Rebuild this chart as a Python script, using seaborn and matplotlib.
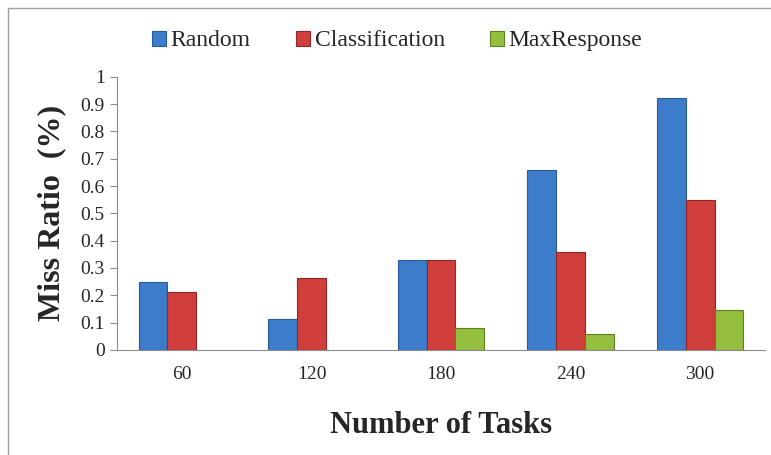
import pandas as pd
import matplotlib
matplotlib.use("Agg")
import matplotlib.pyplot as plt
import seaborn as sns
from matplotlib.patches import Rectangle

# values
tasks = ["60", "120", "180", "240", "300"]
random_vals = [0.25, 0.115, 0.33, 0.66, 0.923]
classification_vals = [0.213, 0.263, 0.33, 0.357, 0.548]
maxresponse_vals = [0.0, 0.0, 0.079, 0.059, 0.147]

methods = ["Random", "Classification", "MaxResponse"]
colors = ["#3D7CCB", "#D03E3B", "#93BE3E"]
edges = ["#2A5A93", "#8E2826", "#5E7F25"]

df = pd.DataFrame({
    "Tasks": tasks * 3,
    "Miss": random_vals + classification_vals + maxresponse_vals,
    "Method": ["Random"] * 5 + ["Classification"] * 5 + ["MaxResponse"] * 5,
})

sns.set_style("white")
plt.rcParams["font.family"] = ["Liberation Serif", "DejaVu Serif"]

fig = plt.figure(figsize=(7.71, 4.55), dpi=100)
ax = fig.add_axes([0.152, 0.231, 0.840, 0.600])

sns.barplot(data=df, x="Tasks", y="Miss", hue="Method", hue_order=methods,
            palette=colors, saturation=1, width=0.67, gap=0, ax=ax,
            legend=False)

# darker outline per series, hide zero-height bars
for cont, ec in zip(ax.containers, edges):
    for bar in cont:
        bar.set_edgecolor(ec)
        bar.set_linewidth(0.8)
        if bar.get_height() == 0:
            bar.set_visible(False)

ax.set_ylim(0, 1)
ax.set_yticks([i / 10 for i in range(11)])
ax.set_yticklabels(["0"] + [f"{i/10:g}" for i in range(1, 10)] + ["1"])
ax.set_xlim(-0.5, 4.5)

for s in ["top", "right"]:
    ax.spines[s].set_visible(False)
ax.spines["left"].set_color("#8C8C8C")
ax.spines["bottom"].set_color("#8C8C8C")
ax.tick_params(axis="y", which="major", left=True, length=5, color="#8C8C8C",
               labelsize=14, pad=4)
ax.tick_params(axis="x", bottom=False, labelsize=14, pad=8)

ax.set_ylabel("Miss Ratio  (%)", fontsize=23, fontweight="bold", labelpad=10)
ax.set_xlabel("Number of Tasks", fontsize=22, fontweight="bold", labelpad=20)

handles = [Rectangle((0, 0), 1, 1, facecolor=c, edgecolor=e, linewidth=0.8)
           for c, e in zip(colors, edges)]
fig.legend(handles, methods, loc="center", bbox_to_anchor=(0.515, 0.91),
           ncol=3, frameon=False, fontsize=17, handlelength=0.6,
           handleheight=0.6, handletextpad=0.2, columnspacing=1.9)

# outer border of the chart area
fig.patches.append(Rectangle((8 / 771, -0.1), 1.0, 1.1 - 8 / 455,
                             transform=fig.transFigure, fill=False,
                             edgecolor="#A0A0A0", linewidth=1.0))

fig.savefig("out.png", dpi=100)
